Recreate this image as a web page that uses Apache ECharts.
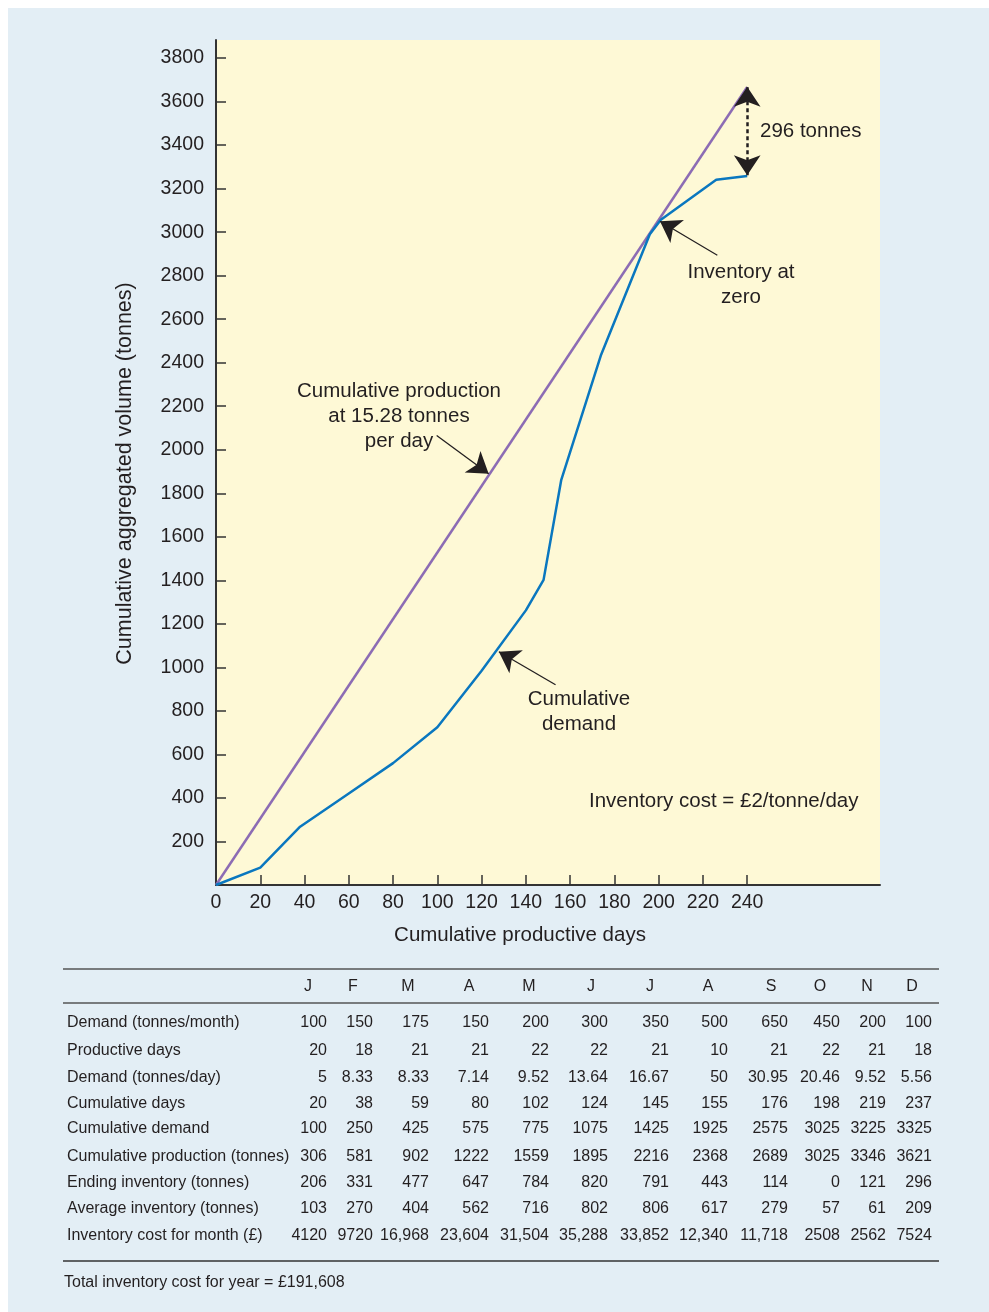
<!DOCTYPE html>
<html>
<head>
<meta charset="utf-8">
<script src="https://cdn.jsdelivr.net/npm/echarts@6/dist/echarts.min.js"></script>
<style>
  html, body { margin: 0; padding: 0; background: #fff; }
  #panel { position: absolute; left: 8px; top: 8px; width: 981px; height: 1304px; background: #e3eef5; }
  #chart { position: absolute; left: 0; top: 0; width: 989px; height: 1312px; }
</style>
</head>
<body>
<div id="panel"></div>
<div id="chart"></div>
<script>
// chart data
var productionDays = [0, 240];
var productionCum = [0, 3667];
var demandDays = [0, 20, 38, 59, 80, 100, 120, 140, 148, 156, 174, 196, 201, 226, 240];
var demandCum = [0, 80, 268, 414, 560, 725, 985, 1262, 1402, 1862, 2437, 2990, 3057, 3241, 3258];
var yTicks = [200, 400, 600, 800, 1000, 1200, 1400, 1600, 1800, 2000, 2200, 2400, 2600, 2800, 3000, 3200, 3400, 3600, 3800];
var xTicks = [0, 20, 40, 60, 80, 100, 120, 140, 160, 180, 200, 220, 240];

// table data
var months = ['J', 'F', 'M', 'A', 'M', 'J', 'J', 'A', 'S', 'O', 'N', 'D'];
var demandMonth = [100, 150, 175, 150, 200, 300, 350, 500, 650, 450, 200, 100];
var productiveDays = [20, 18, 21, 21, 22, 22, 21, 10, 21, 22, 21, 18];
var demandDay = [5, 8.33, 8.33, 7.14, 9.52, 13.64, 16.67, 50, 30.95, 20.46, 9.52, 5.56];
var cumDays = [20, 38, 59, 80, 102, 124, 145, 155, 176, 198, 219, 237];
var cumDemand = [100, 250, 425, 575, 775, 1075, 1425, 1925, 2575, 3025, 3225, 3325];
var cumProduction = [306, 581, 902, 1222, 1559, 1895, 2216, 2368, 2689, 3025, 3346, 3621];
var endingInv = [206, 331, 477, 647, 784, 820, 791, 443, 114, 0, 121, 296];
var averageInv = [103, 270, 404, 562, 716, 802, 806, 617, 279, 57, 61, 209];
var invCost = [4120, 9720, 16968, 23604, 31504, 35288, 33852, 12340, 11718, 2508, 2562, 7524];
var totalCost = 191608;

var font = '"Liberation Sans", Arial, sans-serif';
var ink = '#231f20';

function fmt(v) {
  return v >= 10000 ? v.toLocaleString('en-GB') : String(v);
}
function zip(a, b) {
  return a.map(function (v, i) { return [v, b[i]]; });
}

var rows = [
  ['Demand (tonnes/month)', demandMonth],
  ['Productive days', productiveDays],
  ['Demand (tonnes/day)', demandDay],
  ['Cumulative days', cumDays],
  ['Cumulative demand', cumDemand],
  ['Cumulative production (tonnes)', cumProduction],
  ['Ending inventory (tonnes)', endingInv],
  ['Average inventory (tonnes)', averageInv],
  ['Inventory cost for month (\u00a3)', invCost]
];
var rowY = [1023, 1051, 1078, 1104, 1129, 1157, 1183, 1209, 1236];
var colRight = [327, 373, 429, 489, 549, 608, 669, 728, 788, 840, 886, 932];
var headX = [308, 353, 408, 469, 529, 591, 650, 708, 771, 820, 867, 912];
var tFont = '16px ' + font;

var table = [];
table.push({ type: 'line', shape: { x1: 63, y1: 969, x2: 939, y2: 969 }, style: { stroke: '#555', lineWidth: 1.5 } });
table.push({ type: 'line', shape: { x1: 63, y1: 1003, x2: 939, y2: 1003 }, style: { stroke: '#555', lineWidth: 1.5 } });
table.push({ type: 'line', shape: { x1: 63, y1: 1261, x2: 939, y2: 1261 }, style: { stroke: '#333', lineWidth: 1.5 } });
months.forEach(function (m, i) {
  table.push({ type: 'text', x: headX[i], y: 987, style: { text: m, font: tFont, fill: ink, align: 'center', verticalAlign: 'middle' } });
});
rows.forEach(function (r, j) {
  table.push({ type: 'text', x: 67, y: rowY[j], style: { text: r[0], font: tFont, fill: ink, align: 'left', verticalAlign: 'middle' } });
  r[1].forEach(function (v, i) {
    table.push({ type: 'text', x: colRight[i], y: rowY[j], style: { text: fmt(v), font: tFont, fill: ink, align: 'right', verticalAlign: 'middle' } });
  });
});
table.push({ type: 'text', x: 64, y: 1283, style: { text: 'Total inventory cost for year = \u00a3' + fmt(totalCost), font: tFont, fill: ink, align: 'left', verticalAlign: 'middle' } });

var nFont = '20.5px ' + font;
var notes = [
  { type: 'text', x: 760, y: 131, style: { text: '296 tonnes', font: nFont, fill: ink, align: 'left', verticalAlign: 'middle' } },
  { type: 'text', x: 741, y: 285, style: { text: 'Inventory at\nzero', font: nFont, fill: ink, align: 'center', verticalAlign: 'middle', lineHeight: 25 } },
  { type: 'text', x: 399, y: 416, style: { text: 'Cumulative production\nat 15.28 tonnes\nper day', font: nFont, fill: ink, align: 'center', verticalAlign: 'middle', lineHeight: 25 } },
  { type: 'text', x: 579, y: 712, style: { text: 'Cumulative\ndemand', font: nFont, fill: ink, align: 'center', verticalAlign: 'middle', lineHeight: 25 } },
  { type: 'text', x: 589, y: 801, style: { text: 'Inventory cost = \u00a32/tonne/day', font: nFont, fill: ink, align: 'left', verticalAlign: 'middle' } }
];

var arrowLine = { color: ink, width: 1.3, type: 'solid' };

var myChart = echarts.init(document.getElementById('chart'));
var option = {
  animation: false,
  textStyle: { fontFamily: font },
  grid: {
    left: 216, top: 40, width: 664, height: 845,
    show: true, backgroundColor: '#fef9d6', borderWidth: 0
  },
  xAxis: {
    type: 'value', min: 0, max: 300,
    name: 'Cumulative productive days',
    nameLocation: 'middle', nameGap: 40,
    nameTextStyle: { fontSize: 20.5, color: ink, padding: [0, 56, 0, 0] },
    axisLine: { lineStyle: { color: '#333', width: 2 } },
    axisTick: { inside: true, length: 10, lineStyle: { color: '#333', width: 1.5 }, customValues: xTicks },
    axisLabel: { fontSize: 19.5, color: ink, margin: 8, customValues: xTicks, formatter: function (v) { return String(v); } },
    splitLine: { show: false }
  },
  yAxis: {
    type: 'value', min: 0, max: 3883,
    name: 'Cumulative aggregated volume (tonnes)',
    nameLocation: 'middle', nameGap: 80,
    nameTextStyle: { fontSize: 21.5, color: ink, padding: [0, 22, 0, 0] },
    axisLine: { lineStyle: { color: '#333', width: 2 } },
    axisTick: { inside: true, length: 10, lineStyle: { color: '#333', width: 1.5 }, customValues: yTicks },
    axisLabel: { fontSize: 19.5, color: ink, margin: 12, customValues: yTicks, formatter: function (v) { return String(v); } },
    splitLine: { show: false }
  },
  series: [
    {
      name: 'Cumulative production',
      type: 'line',
      data: zip(productionDays, productionCum),
      symbol: 'none',
      lineStyle: { color: '#8c6cb4', width: 2.5 },
      markLine: {
        silent: true,
        label: { show: false },
        data: [
          [{ coord: [99.7, 2066], symbol: 'none', lineStyle: arrowLine }, { coord: [123.2, 1890], symbol: 'arrow', symbolSize: 20 }],
          [{ coord: [153.4, 920], symbol: 'none', lineStyle: arrowLine }, { coord: [127.8, 1072], symbol: 'arrow', symbolSize: 20 }],
          [{ coord: [226.5, 2894], symbol: 'none', lineStyle: arrowLine }, { coord: [200.6, 3050], symbol: 'arrow', symbolSize: 20 }],
          [{ coord: [240, 3262], symbol: 'arrow', symbolSize: 20, lineStyle: { color: ink, width: 2.5, type: [4, 3] } }, { coord: [240, 3668], symbol: 'arrow', symbolSize: 20 }]
        ]
      }
    },
    {
      name: 'Cumulative demand',
      type: 'line',
      data: zip(demandDays, demandCum),
      symbol: 'none',
      lineStyle: { color: '#0a77bf', width: 2.5 }
    }
  ],
  graphic: notes.concat(table)
};
myChart.setOption(option);
</script>
</body>
</html>
